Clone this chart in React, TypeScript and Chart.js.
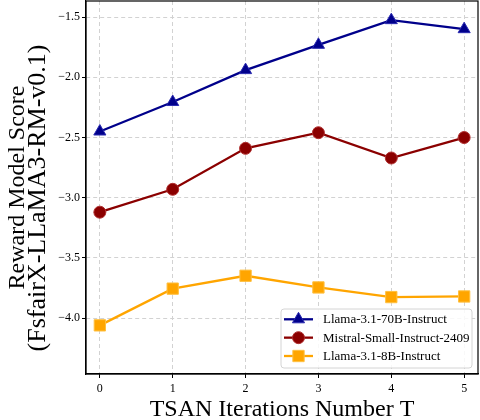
import { useEffect, useRef } from 'react';
import { Chart, registerables } from 'chart.js';
import { drawPoint } from 'chart.js/helpers';

Chart.register(...registerables);

// data
const iterations = [0, 1, 2, 3, 4, 5];
const llama70b = [-2.45, -2.205, -1.94, -1.73, -1.525, -1.6];
const mistralSmall = [-3.12, -2.93, -2.59, -2.46, -2.67, -2.5];
const llama8b = [-4.06, -3.755, -3.648, -3.745, -3.825, -3.82];
const yTicks = [-4.0, -3.5, -3.0, -2.5, -2.0, -1.5];
const seriesNames = ['Llama-3.1-70B-Instruct', 'Mistral-Small-Instruct-2409', 'Llama-3.1-8B-Instruct'];
const yTitleLines = ['Reward Model Score', '(FsfairX-LLaMA3-RM-v0.1)'];

const serif = "'Liberation Serif', 'Times New Roman', serif";

const fmtMinus = (v: number) => (v < 0 ? '\u2212' : '') + Math.abs(v).toFixed(1);

// closes the box on the top and right sides
const framePlugin = {
  id: 'frame',
  afterDatasetsDraw(chart: any) {
    const { ctx, chartArea: a } = chart;
    ctx.save();
    ctx.strokeStyle = '#000';
    ctx.lineWidth = 1.2;
    ctx.strokeRect(a.left, a.top, a.right - a.left, a.bottom - a.top);
    ctx.restore();
  },
};

// two-line y title; the second line is set a bit larger, as in the source figure
const yTitlePlugin = {
  id: 'yTitle',
  afterDraw(chart: any) {
    const { ctx, chartArea: a } = chart;
    const mid = (a.top + a.bottom) / 2;
    const lines = [
      { text: yTitleLines[0], size: 24, x: 17.8, y: mid },
      { text: yTitleLines[1], size: 26, x: 38.5, y: mid + 10.5 },
    ];
    ctx.save();
    ctx.fillStyle = '#000';
    ctx.textAlign = 'center';
    ctx.textBaseline = 'middle';
    lines.forEach((l) => {
      ctx.save();
      ctx.translate(l.x, l.y);
      ctx.rotate(-Math.PI / 2);
      ctx.font = `${l.size}px ${serif}`;
      ctx.fillText(l.text, 0, 0);
      ctx.restore();
    });
    ctx.restore();
  },
};

// matplotlib-style legend in the lower right corner of the plot
const boxLegendPlugin = {
  id: 'boxLegend',
  afterDraw(chart: any) {
    const { ctx, chartArea: a } = chart;
    const w = 191;
    const h = 59;
    const x = a.right - 6 - w;
    const y = a.bottom - 6 - h;
    ctx.save();
    ctx.beginPath();
    ctx.roundRect(x, y, w, h, 3);
    ctx.fillStyle = 'rgba(255,255,255,0.85)';
    ctx.fill();
    ctx.strokeStyle = '#d4d4d4';
    ctx.lineWidth = 1;
    ctx.stroke();

    chart.data.datasets.forEach((ds: any, i: number) => {
      const cy = y + 10.3 + i * 18.35;
      ctx.strokeStyle = ds.borderColor;
      ctx.lineWidth = ds.borderWidth;
      ctx.beginPath();
      ctx.moveTo(x + 3, cy);
      ctx.lineTo(x + 32, cy);
      ctx.stroke();
      ctx.fillStyle = ds.pointBackgroundColor;
      ctx.strokeStyle = ds.pointBorderColor;
      ctx.lineWidth = ds.pointBorderWidth;
      drawPoint(ctx, { pointStyle: ds.pointStyle, radius: ds.pointRadius, rotation: 0, borderWidth: ds.pointBorderWidth }, x + 17.5, cy);
      ctx.fillStyle = '#000';
      ctx.font = `13px ${serif}`;
      ctx.textBaseline = 'middle';
      ctx.textAlign = 'left';
      ctx.fillText(ds.label, x + 42, cy + 0.5);
    });
    ctx.restore();
  },
};

export default function App() {
  const canvasRef = useRef<HTMLCanvasElement>(null);

  useEffect(() => {
    if (!canvasRef.current) return;

    const makeSeries = (label: string, values: number[], color: string, rim: string, style: string, radius: number) => ({
      label,
      data: iterations.map((it, i) => ({ x: it, y: values[i] })),
      borderColor: color,
      borderWidth: 2.3,
      pointStyle: style,
      pointRadius: radius,
      pointBackgroundColor: color,
      pointBorderColor: rim,
      pointBorderWidth: 1,
      tension: 0,
    });

    const chart = new Chart(canvasRef.current, {
      type: 'line',
      data: {
        datasets: [
          makeSeries(seriesNames[0], llama70b, '#00008b', '#2a2ab0', 'triangle', 7),
          makeSeries(seriesNames[1], mistralSmall, '#8b0000', '#b03030', 'circle', 6),
          makeSeries(seriesNames[2], llama8b, '#ffa500', '#ffc040', 'rect', 8),
        ],
      },
      options: {
        animation: false,
        responsive: true,
        maintainAspectRatio: false,
        layout: { autoPadding: false, padding: { top: 1, right: 2, left: 0, bottom: 0 } },
        plugins: {
          legend: { display: false },
          tooltip: { enabled: false },
        },
        scales: {
          x: {
            type: 'linear',
            min: -0.19,
            max: 5.19,
            afterBuildTicks: (scale: any) => {
              scale.ticks = iterations.map((v) => ({ value: v }));
            },
            afterFit: (scale: any) => {
              scale.height = 46;
              scale.paddingLeft = 0;
              scale.paddingRight = 0;
            },
            ticks: {
              color: '#000',
              font: { family: serif, size: 12 },
              padding: 4,
              callback: (v: any) => String(v),
            },
            grid: { color: '#d2d2d2', lineWidth: 1, tickColor: '#000', tickLength: 4, tickWidth: 1 },
            border: { color: '#000', width: 1.2, dash: [4, 3] },
            title: {
              display: true,
              text: 'TSAN Iterations Number T',
              color: '#000',
              font: { family: serif, size: 24, lineHeight: 0.85 },
              padding: 0,
            },
          },
          y: {
            type: 'linear',
            min: -4.464,
            max: -1.366,
            afterBuildTicks: (scale: any) => {
              scale.ticks = yTicks.map((v) => ({ value: v }));
            },
            afterFit: (scale: any) => {
              scale.width = 86;
              scale.paddingTop = 0;
              scale.paddingBottom = 0;
            },
            ticks: {
              color: '#000',
              font: { family: serif, size: 12 },
              padding: 2,
              callback: (v: any) => fmtMinus(Number(v)),
            },
            grid: { color: '#d2d2d2', lineWidth: 1, tickColor: '#000', tickLength: 4, tickWidth: 1 },
            border: { color: '#000', width: 1.2, dash: [4, 3] },
            title: { display: false },
          },
        },
      },
      plugins: [framePlugin, yTitlePlugin, boxLegendPlugin],
    } as any);

    return () => {
      chart.destroy();
    };
  }, []);

  return (
    <div style={{ position: 'fixed', left: 0, top: 0, width: 480, height: 420, background: '#fff' }}>
      <canvas ref={canvasRef} />
    </div>
  );
}
